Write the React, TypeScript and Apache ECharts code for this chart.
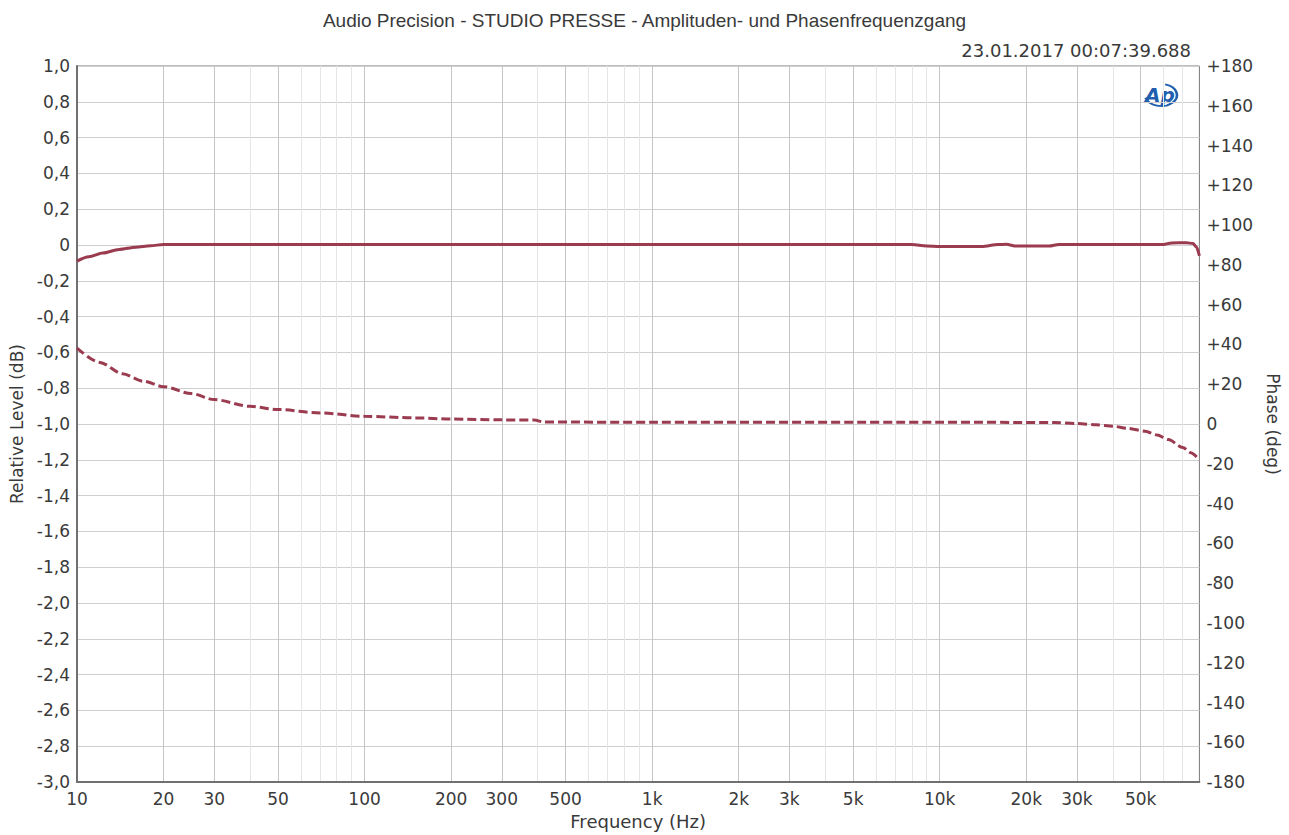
import React, { useEffect, useRef } from "react";
import * as echarts from "echarts";

// Frequencies (Hz) and readings
const magFreq = [10, 11, 12.3, 14, 16, 18, 20, 100, 1000, 8000, 9000, 10000, 14000, 16000, 17000, 18500, 24000, 26000, 60000, 64000, 72000, 76000, 78000, 80000];
const magDb = [-0.09, -0.065, -0.045, -0.025, -0.012, -0.004, 0.003, 0.003, 0.003, 0.003, -0.005, -0.008, -0.008, 0.003, 0.004, -0.006, -0.006, 0.003, 0.003, 0.012, 0.013, 0.008, -0.01, -0.06];

const phaseFreq = [10, 12, 14.4, 17, 20, 25, 30, 40, 50, 70, 100, 150, 200, 300, 390, 420, 1000, 10000, 25000, 30000, 35000, 40000, 45000, 51800, 57000, 62400, 70000, 75000, 80000];
const phaseDeg = [38.2, 31, 25.3, 21.5, 18.8, 15.3, 12.3, 8.9, 7.3, 5.6, 3.9, 3.1, 2.5, 2.1, 2.0, 1.0, 0.9, 0.9, 0.8, 0.25, -0.4, -1.1, -2.2, -3.6, -5.5, -7.8, -11.8, -14.5, -18.2];

const majorTicks = [10, 20, 30, 50, 100, 200, 300, 500, 1000, 2000, 3000, 5000, 10000, 20000, 30000, 50000];
const minorTicks = [40, 60, 70, 80, 90, 400, 600, 700, 800, 900, 4000, 6000, 7000, 8000, 9000, 40000, 60000, 70000];

const X_MIN = 10;
const X_MAX = 80000;

const titleText = "Audio Precision - STUDIO PRESSE - Amplituden- und Phasenfrequenzgang";
const dateText = "23.01.2017 00:07:39.688";

const FONT = "DejaVu Sans";
const TXT = "#3a3a3a";
const LINE = "#9b3b50";

function freqLabel(v: number): string {
  const f = Math.round(Math.pow(10, v));
  if (f >= 1000) return f / 1000 + "k";
  return String(f);
}

export default function App() {
  const ref = useRef<HTMLDivElement>(null);
  useEffect(() => {
    if (!ref.current) return;
    const chart = echarts.init(ref.current, null, { renderer: "svg" });
    const lg = (a: number[]) => a.map((f) => Math.log10(f));
    chart.setOption({
      animation: false,
      backgroundColor: "#ffffff",
      textStyle: { fontFamily: FONT },
      title: [
        {
          text: titleText,
          left: "center",
          top: 6,
          textStyle: { fontFamily: "Liberation Sans", fontSize: 19, fontWeight: "normal", color: TXT },
        },
        {
          text: dateText,
          right: 93,
          top: 36,
          textStyle: { fontFamily: FONT, fontSize: 18, fontWeight: "normal", color: TXT },
        },
      ],
      grid: {
        left: 77,
        right: 88,
        top: 66,
        bottom: 52,
        show: true,
        borderColor: "#7a7a7a",
        borderWidth: 1,
        backgroundColor: "transparent",
      },
      xAxis: [
        {
          type: "value",
          min: Math.log10(X_MIN),
          max: Math.log10(X_MAX),
          position: "bottom",
          name: "Frequency (Hz)",
          nameLocation: "middle",
          nameGap: 27,
          nameTextStyle: { fontFamily: FONT, fontSize: 18, color: TXT },
          axisLine: { show: true, onZero: false, lineStyle: { color: "#707070", width: 2 } },
          axisTick: { show: false, customValues: lg(majorTicks) },
          axisLabel: {
            customValues: lg(majorTicks),
            formatter: (v: number) => freqLabel(v),
            fontFamily: FONT,
            fontSize: 17,
            color: TXT,
            margin: 8,
          },
          splitLine: { show: true, lineStyle: { color: "#c4c4c4", width: 1 } },
        },
        {
          type: "value",
          min: Math.log10(X_MIN),
          max: Math.log10(X_MAX),
          position: "bottom",
          axisLine: { show: false, onZero: false },
          axisTick: { show: false, customValues: lg(minorTicks) },
          axisLabel: { show: false },
          splitLine: { show: true, lineStyle: { color: "#e6e6e6", width: 1 } },
        },
      ],
      yAxis: [
        {
          type: "value",
          min: -3,
          max: 1,
          interval: 0.2,
          position: "left",
          name: "Relative Level (dB)",
          nameLocation: "middle",
          nameGap: 48,
          nameRotate: 90,
          nameTextStyle: { fontFamily: FONT, fontSize: 17, color: TXT },
          axisLine: { show: true, onZero: false, lineStyle: { color: "#707070", width: 2 } },
          axisTick: { show: false },
          axisLabel: {
            formatter: (v: number) => (Math.abs(v) < 1e-9 ? "0" : v.toFixed(1).replace(".", ",")),
            fontFamily: FONT,
            fontSize: 17,
            color: TXT,
            margin: 7,
          },
          splitLine: { show: true, lineStyle: { color: "#cfcfcf", width: 1 } },
        },
        {
          type: "value",
          min: -180,
          max: 180,
          interval: 20,
          position: "right",
          name: "Phase (deg)",
          nameLocation: "middle",
          nameGap: 60,
          nameRotate: -90,
          nameTextStyle: { fontFamily: FONT, fontSize: 17, color: TXT },
          axisLine: { show: false, onZero: false },
          axisTick: { show: false },
          axisLabel: {
            formatter: (v: number) => (v > 0 ? "+" + v : String(v)),
            fontFamily: FONT,
            fontSize: 17,
            color: TXT,
            margin: 7,
          },
          splitLine: { show: false },
        },
      ],
      graphic: [
        {
          type: "group",
          x: 1161,
          y: 95,
          children: [
            {
              type: "text",
              x: -1,
              y: 0,
              style: {
                text: "Ap",
                fill: "#1f5fae",
                font: "italic bold 20px 'DejaVu Sans'",
                align: "center",
                verticalAlign: "middle",
              },
            },
            {
              type: "arc",
              x: 0,
              y: 0,
              scaleX: 1.45,
              shape: { cx: 0, cy: 0, r: 11, startAngle: (-75 * Math.PI) / 180, endAngle: (165 * Math.PI) / 180, clockwise: true },
              style: { stroke: "#1f5fae", lineWidth: 1.8, fill: "none" },
            },
          ],
        },
      ],
      series: [
        {
          type: "line",
          name: "Level",
          xAxisIndex: 0,
          yAxisIndex: 0,
          showSymbol: false,
          smooth: 0.3,
          smoothMonotone: "x",
          lineStyle: { color: LINE, width: 3 },
          data: magFreq.map((f, i) => [Math.log10(f), magDb[i]]),
        },
        {
          type: "line",
          name: "Phase",
          xAxisIndex: 0,
          yAxisIndex: 1,
          showSymbol: false,
          smooth: 0.3,
          smoothMonotone: "x",
          lineStyle: { color: LINE, width: 3, type: [9, 4] },
          data: phaseFreq.map((f, i) => [Math.log10(f), phaseDeg[i]]),
        },
      ],
    });
    return () => chart.dispose();
  }, []);
  return (
    <div
      ref={ref}
      style={{ position: "absolute", left: 0, top: 0, width: 1289, height: 835, background: "#fff" }}
    />
  );
}
